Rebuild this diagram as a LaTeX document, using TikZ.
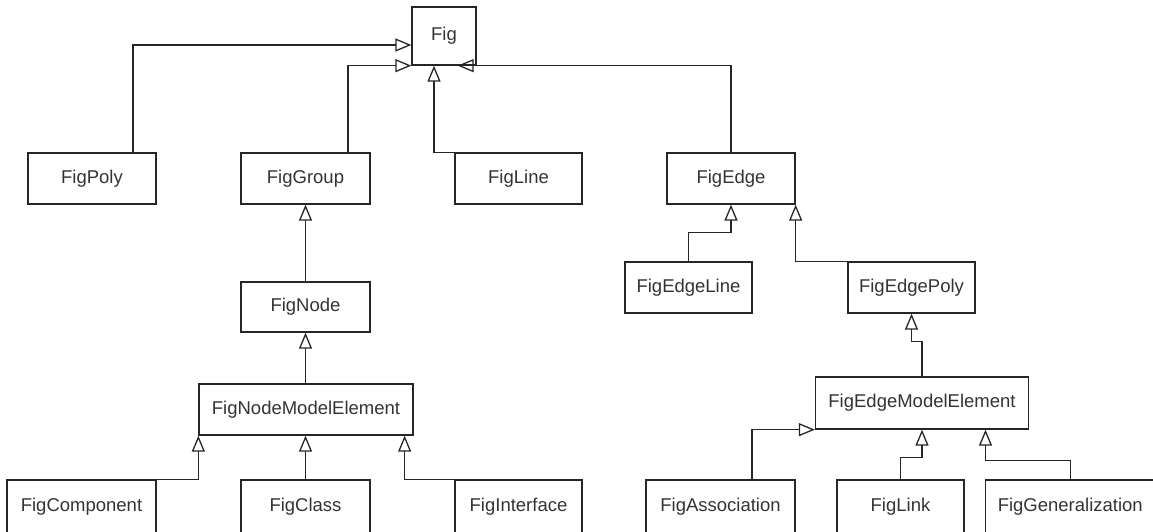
\documentclass[tikz,border=0pt]{standalone}
\usepackage{fontspec}
\setmainfont{Liberation Sans}
\usetikzlibrary{arrows.meta}

\begin{document}
\begin{tikzpicture}[x=1pt, y=-1pt, >={Triangle[open, length=16pt, width=13pt]},
	cls/.style={draw=black!85, line width=1.3pt, rectangle, inner sep=0pt, minimum height=51, text=black!80, font=\fontsize{18.5}{21}\selectfont},
	inh/.style={->, draw=black!85, line width=1.3pt}]

\useasboundingbox (0, 0) rectangle (1153, 531);
\clip (0, 0) rectangle (1153, 531);

%\draw[step=50, color=gray!30] (0, 0) grid (1153, 531);

% top
\node[cls, minimum width=64, minimum height=58] (fig) at (444, 36) {Fig};

\node[cls, minimum width=128] (figpoly) at (92, 178.5) {FigPoly};
\node[cls, minimum width=129] (figgroup) at (305.5, 178.5) {FigGroup};
\node[cls, minimum width=127] (figline) at (518.5, 178.5) {FigLine};
\node[cls, minimum width=128] (figedge) at (731, 178.5) {FigEdge};

% left branch
\node[cls, minimum width=129, minimum height=50] (fignode) at (305.5, 307) {FigNode};
\node[cls, minimum width=214] (fignme) at (306, 409.5) {FigNodeModelElement};

\node[cls, minimum width=149, minimum height=53] (figcomponent) at (81.5, 506.5) {FigComponent};
\node[cls, minimum width=129, minimum height=53] (figclass) at (305.5, 506.5) {FigClass};
\node[cls, minimum width=127, minimum height=53] (figinterface) at (518.5, 506.5) {FigInterface};

% right branch
\node[cls, minimum width=127] (figedgeline) at (688.5, 287.5) {FigEdgeLine};
\node[cls, minimum width=127] (figedgepoly) at (911.5, 287.5) {FigEdgePoly};
\node[cls, minimum width=213, minimum height=52] (figeme) at (922, 403) {FigEdgeModelElement};

\node[cls, minimum width=149, minimum height=53] (figassoc) at (720.5, 506.5) {FigAssociation};
\node[cls, minimum width=127, minimum height=53] (figlink) at (900.5, 506.5) {FigLink};
\node[cls, minimum width=169.5, minimum height=53] (figgen) at (1070.25, 506.5) {FigGeneralization};

% generalizations
\draw[inh] ([xshift=41]figpoly.north) |- ([yshift=-9]fig.west);
\draw[inh] ([xshift=42.5]figgroup.north) |- (fig.south west);
\draw[inh] ([xshift=-20]figline.north) -| ([xshift=-10]fig.south);
\draw[inh] (figedge.north) |- ([xshift=-19]fig.south east);

\draw[inh] (fignode.north) -- (figgroup.south);
\draw[inh] (fignme.north -| fignode.south) -- (fignode.south);
\draw[inh] (figcomponent.north east) -| (fignme.south west);
\draw[inh] (figclass.north) -- (figclass.north |- fignme.south);
\draw[inh] (figinterface.north west) -| ([xshift=-9]fignme.south east);

\draw[inh] (figedgeline.north) -- ++(0, -29) -| (figedge.south);
\draw[inh] ([xshift=10]figedgepoly.north west) -| (figedge.south east);
\draw[inh] (figeme.north) -- ++(0, -35) -| (figedgepoly.south);

\draw[inh] ([xshift=31.5]figassoc.north) |- (figeme.south west);
\draw[inh] (figlink.north) -- ++(0, -22) -| (figeme.south);
\draw[inh] (figgen.north) -- ++(0, -19) -| ([xshift=63.5]figeme.south);

\end{tikzpicture}
\end{document}
